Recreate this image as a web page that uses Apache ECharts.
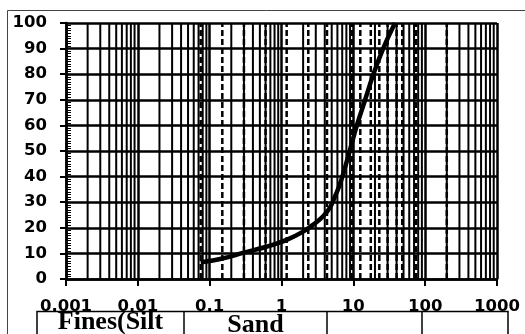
<!DOCTYPE html>
<html><head><meta charset="utf-8">
<script src="https://cdn.jsdelivr.net/npm/echarts@6/dist/echarts.min.js"></script>
<style>html,body{margin:0;padding:0;background:#fff}#c{width:525px;height:334px}</style>
</head><body><div id="c"></div>
<script>
// Grain size (mm) and percent passing
const grainSize = [0.075, 0.15, 0.3, 0.6, 1.18, 2, 3, 3.8, 4.75, 5.5, 6.5, 8.5, 11.2, 14.6, 19, 26, 38];
const percentPassing = [6.5, 8, 10.3, 12.5, 15.3, 18.5, 22, 24.5, 28, 32, 37, 48, 60, 70, 80, 90, 100];
const xTickLabels = ['0.001', '0.01', '0.1', '1', '10', '100', '1000'];
const yTickLabels = ['0', '10', '20', '30', '40', '50', '60', '70', '80', '90', '100'];
const decades = [0.001, 0.01, 0.1, 1, 10, 100];
const minorMultipliers = [2, 3, 4, 5, 6, 7, 8, 9];
const sieveSizes = [0.075, 0.15, 0.3, 0.6, 1.18, 2.36, 4.3, 9.5, 12.5, 17.5, 23, 30, 40, 48, 75, 200];
const tableLabels = ['Fines(Silt', 'Sand', '', ''];

const minorSizes = [];
decades.forEach(d => minorMultipliers.forEach(m => minorSizes.push(+(d * m).toPrecision(6))));

function vLine(v, style, z) {
  return {
    type: 'line', data: [[v, 0], [v, 100]], symbol: 'none', silent: true, z: z,
    lineStyle: style, emphasis: { disabled: true }
  };
}
const minorStyle = { color: '#000', width: 2, type: 'solid' };
const sieveStyle = { color: '#000', width: 2.5, type: [6, 3] };

const chart = echarts.init(document.getElementById('c'), null, { renderer: 'canvas' });
const lblFont = { fontFamily: 'DejaVu Sans', fontWeight: 'bold', fontSize: 16.5, color: '#000' };

const tableX = [37, 184, 327, 422, 508];
const tableTop = 311.5;
const graphics = [
  { type: 'line', shape: { x1: 7.5, y1: 10.5, x2: 7.5, y2: 340 }, style: { stroke: '#444', lineWidth: 1 }, z: 100 },
  { type: 'line', shape: { x1: 7.5, y1: 10.5, x2: 530, y2: 10.5 }, style: { stroke: '#444', lineWidth: 1 }, z: 100 },
  { type: 'rect', shape: { x: tableX[0], y: tableTop, width: tableX[4] - tableX[0], height: 40 }, style: { fill: '#fff', stroke: '#000', lineWidth: 1.5 }, z: 100 }
];
for (let i = 1; i < tableX.length - 1; i++) {
  graphics.push({ type: 'line', shape: { x1: tableX[i], y1: tableTop, x2: tableX[i], y2: 340 }, style: { stroke: '#000', lineWidth: 1.5 }, z: 101 });
}
tableLabels.forEach((t, i) => {
  if (!t) return;
  graphics.push({
    type: 'text', z: 102,
    x: (tableX[i] + tableX[i + 1]) / 2, y: i === 0 ? 322 : 325,
    style: { text: t, fontFamily: 'Liberation Serif', fontWeight: 'bold', fontSize: 26, fill: '#000', align: 'center', verticalAlign: 'middle' }
  });
});

const series = [];
minorSizes.forEach(v => series.push(vLine(v, minorStyle, 1)));
sieveSizes.forEach(v => series.push(vLine(v, sieveStyle, 2)));
series.push({
  type: 'line', z: 5, smooth: 0.4, symbol: 'none', clip: false,
  data: grainSize.map((g, i) => [g, percentPassing[i]]),
  lineStyle: { color: '#000', width: 4.5 }
});

chart.setOption({
  animation: false,
  backgroundColor: '#fff',
  grid: { left: 66, top: 23, right: 28, bottom: 55 },
  xAxis: {
    type: 'log', logBase: 10, min: 0.001, max: 1000, splitNumber: 6,
    axisLine: { show: true, lineStyle: { color: '#000', width: 2.5 } },
    axisTick: { show: true, length: 7, lineStyle: { color: '#000', width: 2 } },
    axisLabel: Object.assign({ margin: 19, formatter: v => { const s = String(+(+v).toPrecision(6)); return xTickLabels.includes(s) ? s : ''; } }, lblFont),
    splitLine: { show: true, lineStyle: { color: '#000', width: 2.5 } }
  },
  yAxis: [{
    type: 'value', min: 0, max: 100, interval: 10,
    axisLine: { show: true, lineStyle: { color: '#000', width: 2.5 } },
    axisTick: { show: true, length: 6, lineStyle: { color: '#000', width: 2 } },
    axisLabel: Object.assign({ margin: 19, formatter: v => yTickLabels[Math.round(v / 10)] }, lblFont),
    splitLine: { show: true, lineStyle: { color: '#000', width: 2.5 } }
  }, {
    type: 'value', min: 0, max: 100, interval: 10, position: 'left', offset: 0,
    axisLine: { show: false }, axisLabel: { show: false },
    axisTick: { show: false, inside: true },
    minorTick: { show: true, splitNumber: 10, length: 5, lineStyle: { color: '#000', width: 1 } },
    splitLine: { show: false }
  }],
  series: series,
  graphic: graphics
});
</script>
</body></html>
